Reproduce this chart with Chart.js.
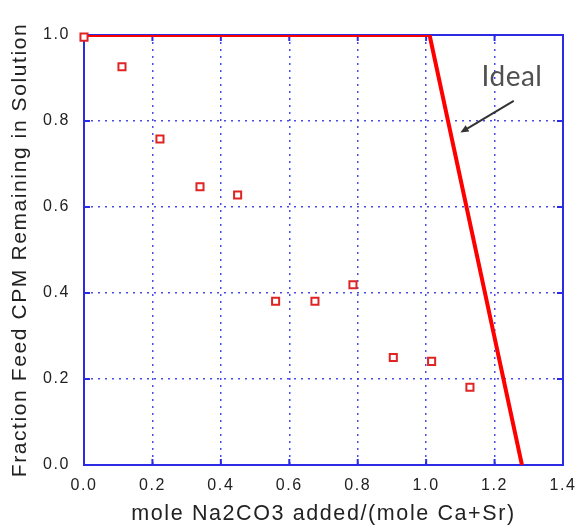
<!DOCTYPE html>
<html>
<head>
<meta charset="utf-8">
<script src="https://cdn.jsdelivr.net/npm/chart.js@4.4.1/dist/chart.umd.min.js"></script>
<style>
  html, body { margin: 0; padding: 0; background: #fff; }
  #wrap { width: 576px; height: 525px; }
</style>
</head>
<body>
<div id="wrap"><canvas id="chart"></canvas></div>
<script>
// measured points: mole Na2CO3 / mole (Ca+Sr) vs fraction of feed CPM left
const moleRatio = [0, 0.111, 0.222, 0.339, 0.449, 0.56, 0.675, 0.786, 0.904, 1.016, 1.128];
const fractionLeft = [0.995, 0.926, 0.758, 0.647, 0.628, 0.381, 0.381, 0.419, 0.25, 0.241, 0.181];

// ideal precipitation curve
const idealX = [0, 1.01, 1.28];
const idealY = [1, 1, 0];

const xTicks = [0, 0.2, 0.4, 0.6, 0.8, 1.0, 1.2, 1.4];
const yTicks = [0, 0.2, 0.4, 0.6, 0.8, 1.0];

// annotation (data coords)
const idealLabel = 'Ideal';
const idealLabelAt = [1.251, 0.902];
const arrowFrom = [1.256, 0.847];
const arrowTo = [1.10, 0.773];

const blue = '#2b2be6';

// spaced-out lettering like the original plot
const spacing = {
    id: 'spacing',
    beforeLayout(chart) { chart.ctx.letterSpacing = '1.6px'; },
    beforeDraw(chart) { chart.ctx.letterSpacing = '1.6px'; }
};

// box round the plot with inward tick marks
const frame = {
    id: 'frame',
    beforeDatasetsDraw(chart) {
        const {ctx, chartArea: a, scales: {x, y}} = chart;
        ctx.save();
        ctx.strokeStyle = blue;
        ctx.lineWidth = 2;
        ctx.strokeRect(a.left, a.top, a.right - a.left, a.bottom - a.top);
        ctx.beginPath();
        xTicks.forEach(v => {
            const px = x.getPixelForValue(v);
            ctx.moveTo(px, a.bottom); ctx.lineTo(px, a.bottom - 6);
            ctx.moveTo(px, a.top); ctx.lineTo(px, a.top + 6);
        });
        yTicks.forEach(v => {
            const py = y.getPixelForValue(v);
            ctx.moveTo(a.left, py); ctx.lineTo(a.left + 6, py);
            ctx.moveTo(a.right, py); ctx.lineTo(a.right - 6, py);
        });
        ctx.stroke();
        ctx.restore();
    }
};

const note = {
    id: 'note',
    afterDatasetsDraw(chart) {
        const {ctx, scales: {x, y}} = chart;
        const x1 = x.getPixelForValue(arrowFrom[0]), y1 = y.getPixelForValue(arrowFrom[1]);
        const x2 = x.getPixelForValue(arrowTo[0]), y2 = y.getPixelForValue(arrowTo[1]);
        const ang = Math.atan2(y2 - y1, x2 - x1);
        ctx.save();
        ctx.strokeStyle = '#333';
        ctx.fillStyle = '#333';
        ctx.lineWidth = 2;
        ctx.beginPath();
        ctx.moveTo(x1, y1);
        ctx.lineTo(x2 - 6 * Math.cos(ang), y2 - 6 * Math.sin(ang));
        ctx.stroke();
        ctx.beginPath();
        ctx.moveTo(x2, y2);
        ctx.lineTo(x2 - 9 * Math.cos(ang - 0.4), y2 - 9 * Math.sin(ang - 0.4));
        ctx.lineTo(x2 - 9 * Math.cos(ang + 0.4), y2 - 9 * Math.sin(ang + 0.4));
        ctx.closePath();
        ctx.fill();

        ctx.letterSpacing = '0.5px';
        ctx.font = '28px Lato';
        ctx.fillStyle = '#505050';
        ctx.textAlign = 'center';
        ctx.textBaseline = 'middle';
        ctx.fillText(idealLabel, x.getPixelForValue(idealLabelAt[0]), y.getPixelForValue(idealLabelAt[1]));
        ctx.restore();
    }
};

const ctx = document.getElementById('chart').getContext('2d');
const chart = new Chart(ctx, {
    type: 'scatter',
    data: {
        datasets: [
            {
                label: 'Measured',
                data: moleRatio.map((v, i) => ({x: v, y: fractionLeft[i]})),
                pointStyle: 'rect',
                pointRadius: 5,
                pointBorderWidth: 2,
                borderColor: '#e02424',
                backgroundColor: '#fff',
                clip: false,
                order: 0
            },
            {
                label: 'Ideal',
                data: idealX.map((v, i) => ({x: v, y: idealY[i]})),
                showLine: true,
                borderColor: '#ff0000',
                borderWidth: 4,
                pointRadius: 0,
                order: 1
            }
        ]
    },
    options: {
        responsive: true,
        maintainAspectRatio: false,
        animation: false,
        layout: { padding: { top: 35, right: 13, left: 0, bottom: 0 } },
        scales: {
            x: {
                type: 'linear',
                min: 0,
                max: 1.4,
                afterBuildTicks: s => { s.ticks = xTicks.map(v => ({value: v})); },
                afterFit: s => { s.height = 60; s.paddingLeft = 0; s.paddingRight = 0; },
                grid: { color: 'rgba(55,55,235,0.9)', lineWidth: 1.5, drawTicks: false },
                border: { display: false, dash: [2, 5] },
                ticks: {
                    padding: 11,
                    color: '#222',
                    font: { family: 'Liberation Sans', size: 16 },
                    callback: v => v.toFixed(1)
                },
                title: {
                    display: true,
                    text: 'mole Na2CO3 added/(mole Ca+Sr)',
                    color: '#222',
                    font: { family: 'Liberation Sans', size: 21.5, lineHeight: 1 },
                    padding: 0
                }
            },
            y: {
                min: 0,
                max: 1.0,
                afterBuildTicks: s => { s.ticks = yTicks.map(v => ({value: v})); },
                afterFit: s => { s.width = 84; s.paddingTop = 0; s.paddingBottom = 0; },
                grid: { color: 'rgba(55,55,235,0.9)', lineWidth: 1.5, drawTicks: false },
                border: { display: false, dash: [2, 5] },
                ticks: {
                    padding: 14,
                    color: '#222',
                    font: { family: 'Liberation Sans', size: 16 },
                    callback: v => v.toFixed(1)
                },
                title: {
                    display: true,
                    text: 'Fraction Feed CPM Remaining in Solution',
                    color: '#222',
                    font: { family: 'Liberation Sans', size: 21, lineHeight: 1 },
                    padding: { top: 10, bottom: 0 }
                }
            }
        },
        plugins: {
            legend: { display: false },
            tooltip: { enabled: false }
        }
    },
    plugins: [spacing, frame, note]
});
</script>
</body>
</html>
